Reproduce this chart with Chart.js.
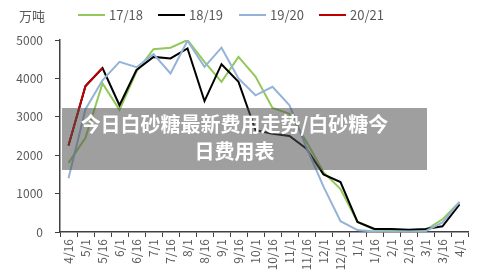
<!DOCTYPE html>
<html>
<head>
<meta charset="utf-8">
<script src="https://cdn.jsdelivr.net/npm/chart.js@4/dist/chart.umd.min.js"></script>
<style>
  body { margin: 0; background: #fff; }
  #wrap { position: relative; width: 490px; height: 280px; font-family: "Noto Sans CJK SC", "Noto Sans", sans-serif; color: #595959; }
  #unit { position: absolute; left: 19px; top: 6px; font-size: 13px; }
  .leg { position: absolute; top: 5px; font-size: 13px; white-space: nowrap; }
  .leg i { display: inline-block; width: 27px; height: 2px; vertical-align: middle; margin-right: 4px; position: relative; top: -1px; }
  #overlay { position: absolute; left: 62px; top: 108px; width: 345px; height: 60px; padding-right: 20px; padding-top: 2px;
    background: rgba(80, 80, 80, 0.55); color: #fff; font-weight: bold; font-size: 20px; line-height: 27px;
    text-align: center; box-sizing: content-box; }
</style>
</head>
<body>
<div id="wrap">
  <canvas id="c" width="490" height="280"></canvas>
  <div id="unit">万吨</div>
  <div id="legend"></div>
  <div id="overlay">今日白砂糖最新费用走势/白砂糖今<br>日费用表</div>
</div>
<script>
  const categories = ['4/16', '5/1', '5/16', '6/1', '6/16', '7/1', '7/16', '8/1', '8/16', '9/1', '9/16', '10/1',
    '10/16', '11/1', '11/16', '12/1', '12/16', '1/1', '1/16', '2/1', '2/16', '3/1', '3/16', '4/1'];
  const seriesNames = ['17/18', '18/19', '19/20', '20/21'];
  const s1718 = [1800, 2450, 3870, 3180, 4180, 4760, 4800, 5000, 4430, 3910, 4560, 4050,
    3230, 3080, 2350, 1560, 1120, 260, 60, 50, 40, 50, 330, 780];
  const s1819 = [2250, 3800, 4270, 3300, 4220, 4560, 4520, 4780, 3410, 4370, 3910, 2650,
    2560, 2500, 2170, 1500, 1300, 260, 80, 80, 60, 80, 150, 720];
  const s1920 = [1400, 3200, 3950, 4430, 4290, 4630, 4130, 4980, 4300, 4800, 4000, 3560,
    3780, 3300, 2200, 1180, 280, 50, 10, 10, 10, 20, 250, 780];
  const s2021 = [2250, 3800, 4270];
  const yTicks = [0, 1000, 2000, 3000, 4000, 5000];

  const colors = ['#92c95a', '#000000', '#95b3d7', '#c00000'];
  const values = [s1718, s1819, s1920, s2021];
  const legendX = [78, 158, 239, 319];

  const legend = document.getElementById('legend');
  seriesNames.forEach((name, i) => {
    const d = document.createElement('div');
    d.className = 'leg';
    d.style.left = legendX[i] + 'px';
    d.innerHTML = '<i style="background:' + colors[i] + '"></i>' + name;
    legend.appendChild(d);
  });

  const axisColor = '#404040';
  const tickFont = { family: '"Noto Sans CJK SC", "Noto Sans", sans-serif', size: 12 };

  new Chart(document.getElementById('c'), {
    type: 'line',
    data: {
      labels: categories,
      datasets: seriesNames.map((name, i) => ({
        label: name,
        data: values[i],
        borderColor: colors[i],
        backgroundColor: colors[i],
        borderWidth: 2,
        pointRadius: 0,
        tension: 0,
        fill: false,
        order: seriesNames.length - i,
      })),
    },
    options: {
      responsive: false,
      animation: false,
      layout: { padding: { top: 40, right: 22, left: 0, bottom: 0 } },
      plugins: { legend: { display: false }, tooltip: { enabled: false } },
      scales: {
        x: {
          offset: true,
          grid: { display: true, offset: true, drawOnChartArea: false, drawTicks: true, tickLength: 5, color: axisColor },
          border: { color: axisColor, width: 1.5 },
          ticks: { color: '#595959', font: tickFont, minRotation: 90, maxRotation: 90, autoSkip: false, padding: 2 },
          afterFit: (a) => { a.height = 48; },
        },
        y: {
          min: 0,
          max: 5000,
          afterBuildTicks: (a) => { a.ticks = yTicks.map(v => ({ value: v })); },
          grid: { display: true, drawOnChartArea: false, drawTicks: true, tickLength: 5, color: axisColor },
          border: { color: axisColor, width: 1.5 },
          ticks: { color: '#595959', font: tickFont, padding: 12, callback: (v) => String(v) },
          afterFit: (a) => { a.width = 60; },
        },
      },
    },
  });
</script>
</body>
</html>
